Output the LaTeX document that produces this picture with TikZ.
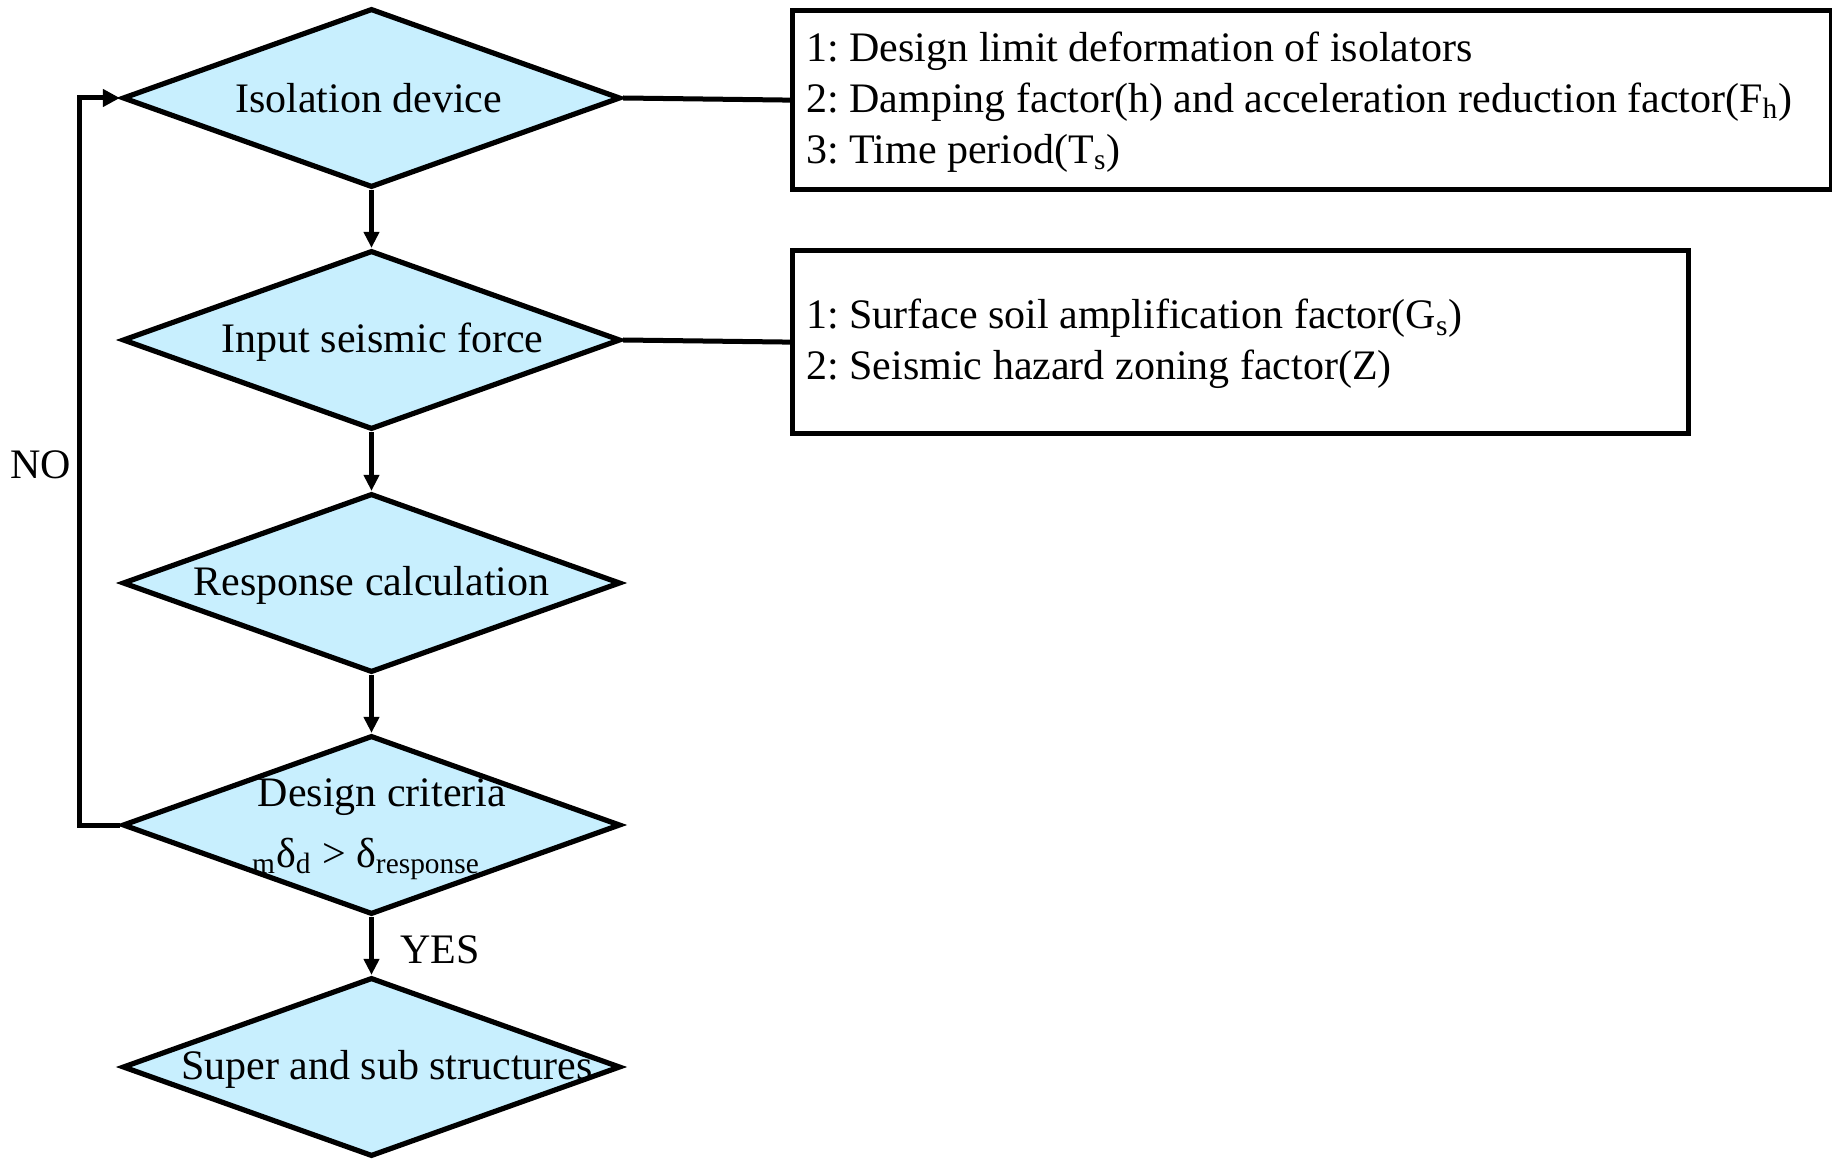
\documentclass[tikz,border=0pt]{standalone}
\usepackage{fontspec}
\setmainfont{Liberation Serif}
\usetikzlibrary{shapes.geometric,arrows.meta}
\definecolor{decfill}{RGB}{200,239,254}
\frenchspacing
\begin{document}
\begin{tikzpicture}[x=0.5pt,y=-0.5pt,
  every node/.style={font=\fontsize{21}{25.4}\selectfont, inner sep=0pt},
  decision/.style={diamond, draw, line width=2.6pt, fill=decfill,
    minimum width=249pt, minimum height=89.5pt, inner sep=0pt},
  infobox/.style={rectangle, draw, line width=2.6pt, anchor=north west},
  infotext/.style={align=left, anchor=west},
  flow/.style={line width=2.2pt, -{Triangle[length=8pt,width=7.5pt]}},
  link/.style={line width=2.5pt},
]
\useasboundingbox (0,0) rectangle (1832,1160);

% decision diamonds
\node[decision] (d1) at (371.5,98) {};
\node[decision] (d2) at (371.5,340) {};
\node[decision] (d3) at (371.5,583) {};
\node[decision] (d4) at (371.5,825) {};
\node[decision] (d5) at (371.5,1067) {};

% diamond captions
\node (t1) at (368.6,98) {Isolation device};
\node (t2) at (382.6,342) {Input seismic force};
\node (t3) at (371.5,585) {Response calculation};
\node (t4) at (382,797) {Design criteria};
\node (t4b) at (366,859) {\textsubscript{m}δ\textsubscript{d} > δ\textsubscript{response}};
\node (t5) at (387,1069) {Super and sub structures};

% parameter boxes
\node[infobox, minimum width=519.5pt, minimum height=89.5pt] (b1) at (790,8) {};
\node[infotext] (b1t) at (806,102)
  {1: Design limit deformation of isolators\\
   2: Damping factor(h) and acceleration reduction factor(F\textsubscript{h})\\
   3: Time period(T\textsubscript{s})};
\node[infobox, minimum width=448pt, minimum height=91.5pt] (b2) at (790,248) {};
\node[infotext] (b2t) at (806,344)
  {1: Surface soil amplification factor(G\textsubscript{s})\\
   2: Seismic hazard zoning factor(Z)};

% main flow
\draw[flow] (d1.south) -- (d2.north);
\draw[flow] (d2.south) -- (d3.north);
\draw[flow] (d3.south) -- (d4.north);
\draw[flow] (d4.south) -- (d5.north);

% links to parameter boxes
\draw[link] (d1.east) -- (b1.west);
\draw[link] (d2.east) -- (b2.west);

% feedback loop
\coordinate (loopx) at (79.5,0);
\draw[link, -{Triangle[length=8.5pt,width=8.5pt]}] (d4.west) -- (d4.west -| loopx) |- (d1.west);

% branch labels
\node (no) at (41,465) {NO};
\node (yes) at (440,950) {YES};
\end{tikzpicture}
\end{document}
